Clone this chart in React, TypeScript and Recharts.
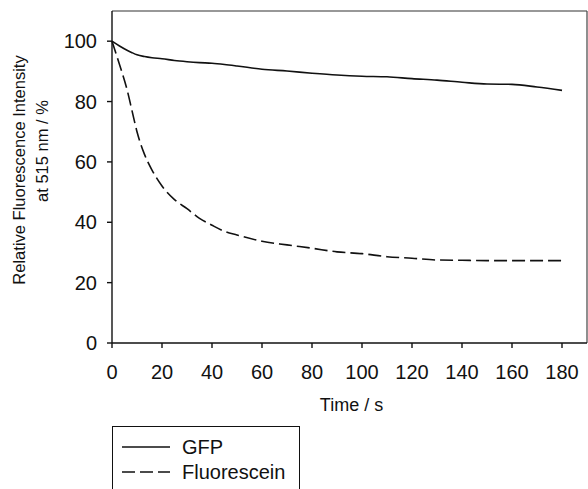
import { LineChart, Line, XAxis, YAxis, Legend, ReferenceLine } from 'recharts'

// time in s, values in % of initial fluorescence at 515 nm
const times = [0, 3, 6, 8, 10, 13, 16, 20, 25, 30, 35, 40, 45, 50, 60, 70, 80, 90, 100, 110, 120, 130, 140, 150, 160, 170, 180]
const gfp = [100, 98.4, 97.0, 96.2, 95.5, 94.9, 94.5, 94.2, 93.6, 93.2, 92.9, 92.7, 92.3, 91.8, 90.7, 90.1, 89.4, 88.8, 88.4, 88.2, 87.6, 87.1, 86.4, 85.8, 85.7, 84.8, 83.7]
const fluorescein = [100, 92.3, 84, 77, 70, 62.5, 57.3, 52, 47.5, 44.5, 41.3, 39, 37, 35.8, 33.7, 32.5, 31.4, 30.2, 29.6, 28.6, 28.1, 27.5, 27.4, 27.3, 27.3, 27.3, 27.3]
const xTicks = [0, 20, 40, 60, 80, 100, 120, 140, 160, 180]
const yTicks = [0, 20, 40, 60, 80, 100]
const xMax = 190
const yMax = 110

const series = [
  { key: 'gfp', name: 'GFP', dash: undefined },
  { key: 'fluorescein', name: 'Fluorescein', dash: '13 5' },
]

const rows = times.map((t, i) => ({ t, gfp: gfp[i], fluorescein: fluorescein[i] }))

const font = '"Liberation Sans", Arial, Helvetica, sans-serif'
const ink = '#111'

const YTitle = (props: any) => {
  const vb = props.viewBox
  const cy = vb.y + vb.height / 2
  return (
    <g fontFamily={font} fontSize={16.5} fill={ink} textAnchor="middle">
      <text transform={`translate(${25},${cy - 7}) rotate(-90)`}>Relative Fluorescence Intensity</text>
      <text transform={`translate(${48},${cy - 26}) rotate(-90)`}>at 515 nm / %</text>
    </g>
  )
}

const XTitle = (props: any) => {
  const vb = props.viewBox
  return (
    <text x={vb.x + vb.width / 2 + 2} y={vb.y + 68} fontFamily={font} fontSize={18} fill={ink} textAnchor="middle">
      Time / s
    </text>
  )
}

const Key = () => (
  <div style={{ position: 'relative', width: 188, height: 63, border: `1px solid ${ink}`, borderBottom: 'none', boxSizing: 'border-box' }}>
    <svg width={188} height={63} style={{ position: 'absolute', left: -1, top: -1 }}>
      {series.map((s, i) => (
        <g key={s.key}>
          <line x1={10} x2={58} y1={21 + i * 25} y2={21 + i * 25} stroke={ink} strokeWidth={1.4} strokeDasharray={s.dash} />
          <text x={70} y={21 + i * 25} dy="0.35em" fontFamily={font} fontSize={20} fill={ink}>{s.name}</text>
        </g>
      ))}
    </svg>
  </div>
)

export default function App() {
  return (
    <div style={{ position: 'absolute', left: 0, top: 0, width: 588, height: 489, background: '#fff' }}>
      <LineChart width={588} height={489} data={rows} margin={{ top: 11, right: 1, bottom: 0, left: 0 }}>
        <XAxis
          dataKey="t"
          type="number"
          domain={[0, xMax]}
          ticks={xTicks}
          height={146}
          tickSize={5}
          tickMargin={17}
          stroke={ink}
          strokeWidth={1.4}
          tick={{ fontFamily: font, fontSize: 20, fill: ink }}
          label={<XTitle />}
        />
        <YAxis
          type="number"
          domain={[0, yMax]}
          ticks={yTicks}
          width={112}
          tickSize={5}
          tickMargin={10}
          stroke={ink}
          strokeWidth={1.4}
          tick={{ fontFamily: font, fontSize: 20, fill: ink }}
          label={<YTitle />}
        />
        <ReferenceLine y={yMax} stroke="#333" strokeWidth={1.2} />
        <ReferenceLine x={xMax} stroke="#444" strokeWidth={1.2} />
        {series.map((s) => (
          <Line
            key={s.key}
            dataKey={s.key}
            name={s.name}
            type="monotone"
            stroke={ink}
            strokeWidth={1.6}
            strokeDasharray={s.dash}
            dot={false}
            isAnimationActive={false}
          />
        ))}
        <Legend
          layout="vertical"
          align="center"
          verticalAlign="middle"
          content={<Key />}
          wrapperStyle={{ left: 112, top: 426, width: 188, height: 63, right: 'auto', bottom: 'auto' }}
        />
      </LineChart>
    </div>
  )
}
